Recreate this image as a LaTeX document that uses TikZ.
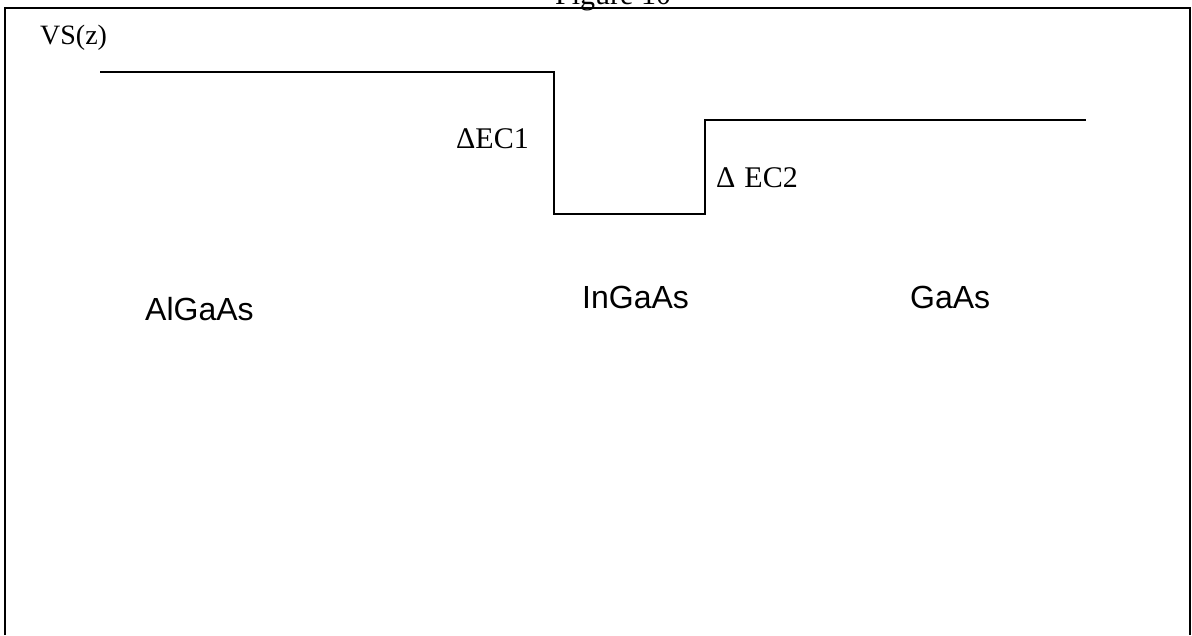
\documentclass[tikz,border=0pt]{standalone}
\usepackage{fontspec}
\setmainfont{Liberation Serif}
\newfontfamily\labsans{Liberation Sans}
\begin{document}
\begin{tikzpicture}[x=1pt,y=-1pt,
  frame/.style={line width=1.6pt},
  prof/.style={line width=1.5pt},
  serlab/.style={anchor=base west,inner sep=0pt,font=\fontsize{30}{34}\selectfont},
  sanlab/.style={anchor=base west,inner sep=0pt,font=\labsans\fontsize{32}{36}\selectfont}]
\useasboundingbox (0,0) rectangle (1192,635);
% frame
\coordinate (fbl) at (5,635);
\coordinate (ftl) at (5,8);
\coordinate (ftr) at (1190,8);
\coordinate (fbr) at (1190,635);
\draw[frame] (fbl) -- (ftl) -- (ftr) -- (fbr);
\node[serlab] (title) at (555,4) {Figure 10};
% profile
\coordinate (p1) at (100,72);
\coordinate (p2) at (554,72);
\coordinate (p3) at (554,214);
\coordinate (p4) at (705,214);
\coordinate (p5) at (705,120);
\coordinate (p6) at (1086,120);
\draw[prof] (p1) -- (p2) -- (p3) -- (p4) -- (p5) -- (p6);
% labels
\node[serlab,font=\fontsize{28}{32}\selectfont] (vs) at (40,44) {VS(z)};
\node[serlab] (ec1) at (456,148) {ΔEC1};
\node[serlab] (ec2) at (716,187) {Δ\hspace{9pt}EC2};
\node[sanlab] (algaas) at (145,320) {AlGaAs};
\node[sanlab] (ingaas) at (582,308) {InGaAs};
\node[sanlab] (gaas) at (910,308) {GaAs};
\end{tikzpicture}
\end{document}
